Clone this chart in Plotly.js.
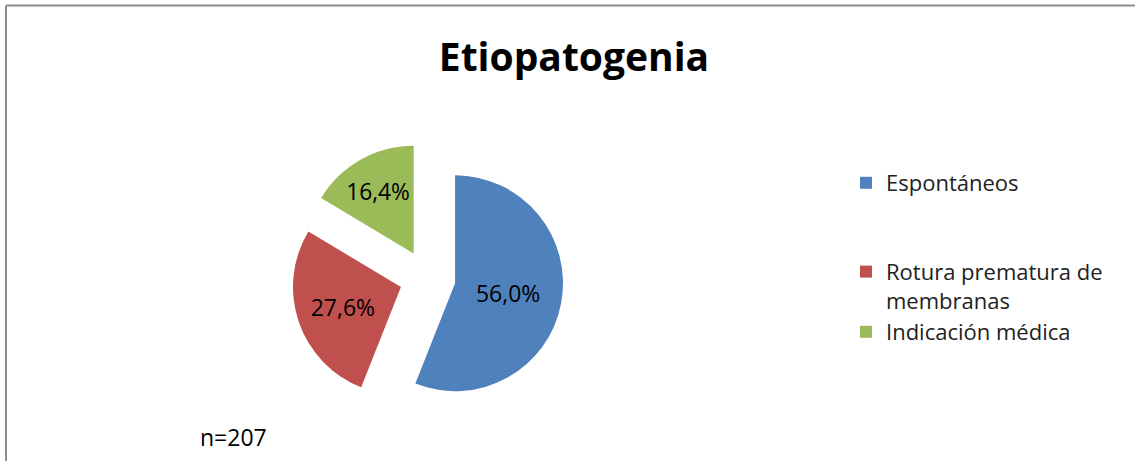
<!DOCTYPE html>
<html>
<head>
<meta charset="utf-8">
<script src="https://cdn.plot.ly/plotly-3.0.1.min.js"></script>
<style>
  html, body { margin: 0; padding: 0; background: #fff; }
  #chart { width: 1135px; height: 461px; }
</style>
</head>
<body>
<div id="chart"></div>
<script>
const categories = ["Espontáneos", "Rotura prematura de<br>membranas", "Indicación médica"];
const percentages = [56.0, 27.6, 16.4];
const sliceColors = ["#4F81BD", "#C0504D", "#9BBB59"];
const chartTitle = "Etiopatogenia";
const sampleNote = "n=207";

const W = 1135, H = 461;
const FONT = "'Open Sans', 'Noto Sans', sans-serif";

// legend labels padded with blank lines to reproduce the wide legend spacing
const legendLabels = [categories[0] + "<br> <br> ", categories[1], categories[2]];

const trace = {
  type: "pie",
  labels: legendLabels,
  values: percentages,
  sort: false,
  direction: "clockwise",
  rotation: 0,
  pull: [0.26, 0.26, 0.26],
  marker: { colors: sliceColors, line: { width: 0 } },
  texttemplate: "%{value:.1f}%",
  textposition: "inside",
  insidetextorientation: "horizontal",
  textfont: { family: FONT, size: 23, color: "#000" },
  hoverinfo: "label+percent",
  domain: { x: [291.5 / W, 563.5 / W], y: [1 - 414 / H, 1 - 142 / H] }
};

const layout = {
  width: W, height: H,
  margin: { l: 0, r: 0, t: 0, b: 0 },
  paper_bgcolor: "#fff",
  separators: ",.",
  font: { family: FONT, color: "#000" },
  title: {
    text: "<b>" + chartTitle + "</b>",
    font: { family: FONT, size: 39, color: "#000" },
    x: 574 / W, xanchor: "center",
    y: 1 - 57 / H, yanchor: "middle"
  },
  showlegend: true,
  legend: {
    x: 846 / W, xanchor: "left",
    y: 1 - 162 / H, yanchor: "top",
    valign: "top",
    font: { family: FONT, size: 22, color: "#222" },
    traceorder: "normal",
    bgcolor: "rgba(0,0,0,0)"
  },
  annotations: [{
    text: sampleNote, xref: "paper", yref: "paper",
    x: 233 / W, y: 1 - 437 / H, xanchor: "center", yanchor: "middle",
    showarrow: false, font: { family: FONT, size: 23, color: "#000" }
  }],
  shapes: [
    { type: "line", xref: "paper", yref: "paper", x0: 6 / W, x1: 1, y0: 1 - 5.5 / H, y1: 1 - 5.5 / H,
      line: { color: "#8c8c8c", width: 2 } },
    { type: "line", xref: "paper", yref: "paper", x0: 6 / W, x1: 6 / W, y0: 0, y1: 1 - 5.5 / H,
      line: { color: "#8c8c8c", width: 2 } }
  ]
};

Plotly.newPlot("chart", [trace], layout, { displayModeBar: false, responsive: false });
</script>
</body>
</html>
